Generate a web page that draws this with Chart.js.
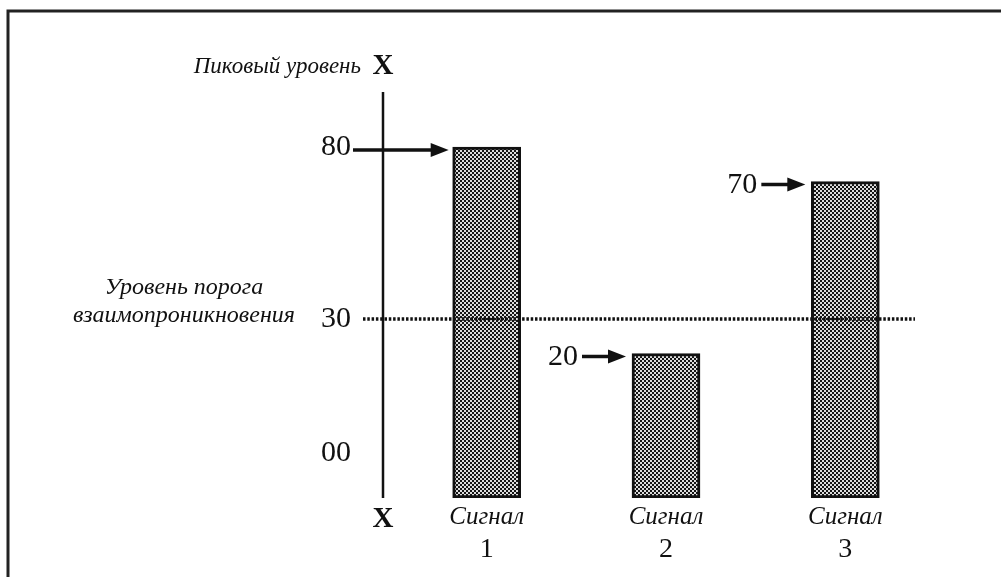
<!DOCTYPE html>
<html>
<head>
<meta charset="utf-8">
<script src="https://cdn.jsdelivr.net/npm/chart.js@4"></script>
<style>
  html, body { margin: 0; padding: 0; background: #fff; }
  #wrap { width: 1001px; height: 577px; }
</style>
</head>
<body>
<div id="wrap"><canvas id="chart" width="1001" height="577"></canvas></div>
<script>
// data
const signalNames = ["Сигнал", "Сигнал", "Сигнал"];
const signalNumbers = ["1", "2", "3"];
const peakLevels = [80, 20, 70];
const threshold = 30;
const tickValues = [80, 30, -9];
const tickLabels = ["80", "30", "00"];

const SERIF = "'Liberation Serif', 'DejaVu Serif', serif";

// dotted fill like the printed screen
function makePattern() {
  const c = document.createElement("canvas");
  c.width = 4;
  c.height = 4;
  const g = c.getContext("2d");
  g.fillStyle = "#dcdcdc";
  g.fillRect(0, 0, 4, 4);
  g.fillStyle = "#141414";
  g.fillRect(0, 0, 2, 2);
  g.fillRect(2, 2, 2, 2);
  return g.createPattern(c, "repeat");
}

function arrow(ctx, x1, x2, y) {
  ctx.save();
  ctx.strokeStyle = "#111";
  ctx.fillStyle = "#111";
  ctx.lineWidth = 3.5;
  ctx.beginPath();
  ctx.moveTo(x1, y);
  ctx.lineTo(x2 - 12, y);
  ctx.stroke();
  ctx.beginPath();
  ctx.moveTo(x2, y);
  ctx.lineTo(x2 - 18, y - 7);
  ctx.lineTo(x2 - 18, y + 7);
  ctx.closePath();
  ctx.fill();
  ctx.restore();
}

const schemePlugin = {
  id: "scheme",
  beforeDraw(chart) {
    const ctx = chart.ctx;
    ctx.save();
    ctx.strokeStyle = "#222";
    ctx.lineWidth = 3;
    ctx.beginPath();
    ctx.moveTo(8, 577);
    ctx.lineTo(8, 11);
    ctx.lineTo(1001, 11);
    ctx.stroke();
    ctx.restore();
  },
  afterDatasetsDraw(chart) {
    const ctx = chart.ctx;
    const area = chart.chartArea;
    const y = chart.scales.y;
    const axisX = area.left - 14;

    ctx.save();
    // vertical axis
    ctx.strokeStyle = "#111";
    ctx.lineWidth = 2.5;
    ctx.beginPath();
    ctx.moveTo(axisX, area.top);
    ctx.lineTo(axisX, area.bottom);
    ctx.stroke();

    // threshold line
    const ty = y.getPixelForValue(threshold);
    ctx.lineWidth = 3.5;
    ctx.setLineDash([2.5, 1.8]);
    ctx.beginPath();
    ctx.moveTo(axisX - 20, ty);
    ctx.lineTo(area.right - 20, ty);
    ctx.stroke();
    ctx.setLineDash([]);

    ctx.fillStyle = "#111";
    ctx.textAlign = "center";
    ctx.textBaseline = "middle";
    ctx.font = "bold 29px " + SERIF;
    ctx.fillText("X", axisX, area.top - 25);
    ctx.fillText("X", axisX, area.bottom + 22);

    ctx.font = "italic 23px " + SERIF;
    ctx.textAlign = "right";
    ctx.fillText("Пиковый уровень", axisX - 22, area.top - 25);
    ctx.font = "italic 24px " + SERIF;
    ctx.textAlign = "center";
    ctx.fillText("Уровень порога", 184, ty - 31);
    ctx.fillText("взаимопроникновения", 184, ty - 3);

    // arrows to the bar tops
    ctx.font = "30px " + SERIF;
    const meta = chart.getDatasetMeta(0);
    meta.data.forEach((bar, i) => {
      const v = peakLevels[i];
      const left = bar.x - bar.width / 2;
      const ay = bar.y + 3;
      if (tickValues.includes(v)) {
        arrow(ctx, area.left - 44, left - 4, ay);
      } else {
        arrow(ctx, left - 50, left - 6, ay);
        ctx.textAlign = "right";
        ctx.fillText(String(v), left - 54, ay + 1);
      }
    });
    ctx.restore();
  }
};

const ctx = document.getElementById("chart").getContext("2d");
new Chart(ctx, {
  type: "bar",
  data: {
    labels: signalNames,
    datasets: [
      {
        data: peakLevels,
        base: -22,
        backgroundColor: makePattern(),
        borderColor: "#111",
        borderWidth: 3,
        borderSkipped: false,
        barThickness: 68,
      },
    ],
  },
  options: {
    responsive: false,
    animation: false,
    events: [],
    layout: { padding: { top: 92, right: 66, bottom: 12, left: 0 } },
    plugins: {
      legend: { display: false },
      tooltip: { enabled: false },
    },
    scales: {
      x: {
        grid: { display: false, drawTicks: false },
        border: { display: false },
        ticks: {
          color: "#111",
          padding: 4,
          maxRotation: 0,
          font: { family: SERIF, size: 25, style: "italic" },
        },
        afterFit: (s) => { s.height = 31; },
      },
      x2: {
        type: "category",
        labels: signalNumbers,
        position: "bottom",
        grid: { display: false, drawTicks: false },
        border: { display: false },
        ticks: {
          color: "#111",
          padding: 4,
          maxRotation: 0,
          font: { family: SERIF, size: 28 },
        },
        afterFit: (s) => { s.height = 36; },
      },
      y: {
        min: -22,
        max: 96,
        grid: { display: false, drawTicks: false },
        border: { display: false },
        afterBuildTicks: (s) => {
          s.ticks = tickValues.map((v) => ({ value: v }));
        },
        ticks: {
          color: "#111",
          padding: 46,
          font: { family: SERIF, size: 30 },
          callback: (v, i) => tickLabels[i],
        },
        afterFit: (s) => { s.width = 397; },
      },
    },
  },
  plugins: [schemePlugin],
});
</script>
</body>
</html>
